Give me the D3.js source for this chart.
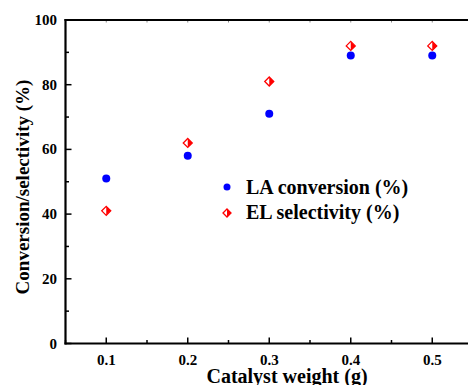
<!DOCTYPE html>
<html>
<head>
<meta charset="utf-8">
<script src="https://cdn.jsdelivr.net/npm/d3@7"></script>
<style>
  body { margin: 0; background: #fff; }
  svg { display: block; }
</style>
</head>
<body>
<svg id="chart" width="468" height="385"></svg>
<script>
// catalyst weight (g)
const weights = [0.1, 0.2, 0.3, 0.4, 0.5];
// LA conversion (%)
const conversion = [51, 58, 71, 89, 89];
// EL selectivity (%)
const selectivity = [41, 62, 81, 92, 92];
const xTicks = [0.1, 0.2, 0.3, 0.4, 0.5];
const yTicks = [0, 20, 40, 60, 80, 100];

const svg = d3.select('#chart');

// serif bold on every text node
const serif = (sel, size) =>
  sel.attr('font-family', 'Liberation Serif')
    .attr('font-weight', 'bold')
    .attr('font-size', size);

const x = d3.scaleLinear().domain([0.05, 0.55]).range([65.5, 473]);
const y = d3.scaleLinear().domain([0, 100]).range([343.5, 20]);

// minor ticks
const xMinor = d3.range(0.05, 0.551, 0.05);
const yMinor = d3.range(0, 101, 10);

const g = svg.append('g');

// bottom axis ticks (inward)
g.selectAll('.xmin')
  .data(xMinor)
  .join('line')
  .attr('x1', (d) => x(d)).attr('x2', (d) => x(d))
  .attr('y1', y(0)).attr('y2', (d) => y(0) - (xTicks.some((t) => Math.abs(t - d) < 1e-6) ? 6 : 3.5))
  .attr('stroke', '#000').attr('stroke-width', 1.5);

// top axis ticks (small)
g.selectAll('.xtop')
  .data(xMinor)
  .join('line')
  .attr('x1', (d) => x(d)).attr('x2', (d) => x(d))
  .attr('y1', y(100)).attr('y2', y(100) + 2.5)
  .attr('stroke', '#888').attr('stroke-width', 1);

// left axis ticks (inward)
g.selectAll('.ymin')
  .data(yMinor)
  .join('line')
  .attr('y1', (d) => y(d)).attr('y2', (d) => y(d))
  .attr('x1', x(0.05)).attr('x2', (d) => x(0.05) + (d % 20 === 0 ? 6 : 3.5))
  .attr('stroke', '#000').attr('stroke-width', 1.5);

// axis lines
g.append('line')
  .attr('x1', x(0.05) - 1).attr('x2', 468)
  .attr('y1', y(0)).attr('y2', y(0))
  .attr('stroke', '#000').attr('stroke-width', 2.2);
g.append('line')
  .attr('x1', x(0.05) - 1).attr('x2', 468)
  .attr('y1', y(100)).attr('y2', y(100))
  .attr('stroke', '#000').attr('stroke-width', 2.2);
g.append('line')
  .attr('x1', x(0.05)).attr('x2', x(0.05))
  .attr('y1', y(100) - 1).attr('y2', y(0) + 1)
  .attr('stroke', '#000').attr('stroke-width', 2.2);

// tick labels
g.selectAll('.xlab')
  .data(xTicks)
  .join('text')
  .attr('x', (d) => x(d))
  .attr('y', y(0) + 21)
  .attr('text-anchor', 'middle')
  .call(serif, 15)
  .text((d) => d.toFixed(1));

g.selectAll('.ylab')
  .data(yTicks)
  .join('text')
  .attr('x', x(0.05) - 8.5)
  .attr('y', (d) => y(d) + 5)
  .attr('text-anchor', 'end')
  .call(serif, 15)
  .text((d) => d);

// axis titles
svg.append('text')
  .attr('x', 287)
  .attr('y', 383)
  .attr('text-anchor', 'middle')
  .call(serif, 20)
  .text('Catalyst weight (g)');

svg.append('text')
  .attr('transform', 'translate(29,187) rotate(-90)')
  .attr('text-anchor', 'middle')
  .call(serif, 19)
  .text('Conversion/selectivity (%)');

// half-filled diamond marker
const diamond = (sel, cx, cy, r) => {
  const s = sel.append('g').attr('transform', `translate(${cx},${cy})`);
  s.append('path')
    .attr('d', `M0,${-r}L${r},0L0,${r}Z`)
    .attr('fill', '#ff0000');
  s.append('path')
    .attr('d', `M0,${-r}L${r},0L0,${r}L${-r},0Z`)
    .attr('fill', 'none')
    .attr('stroke', '#ff0000')
    .attr('stroke-width', 1.3);
};

const pts = svg.append('g');
weights.forEach((w, i) => {
  diamond(pts, x(w), y(selectivity[i]), 4.5);
});
pts.selectAll('circle')
  .data(weights)
  .join('circle')
  .attr('cx', (d) => x(d))
  .attr('cy', (d, i) => y(conversion[i]))
  .attr('r', 4)
  .attr('fill', '#0000ff');

// legend
const legend = svg.append('g');
legend.append('circle').attr('cx', 227).attr('cy', 187).attr('r', 3.5).attr('fill', '#0000ff');
diamond(legend, 227, 213, 4);
legend.append('text')
  .attr('x', 246).attr('y', 194)
  .call(serif, 20)
  .text('LA conversion (%)');
legend.append('text')
  .attr('x', 246).attr('y', 219)
  .call(serif, 20)
  .text('EL selectivity (%)');
</script>
</body>
</html>
